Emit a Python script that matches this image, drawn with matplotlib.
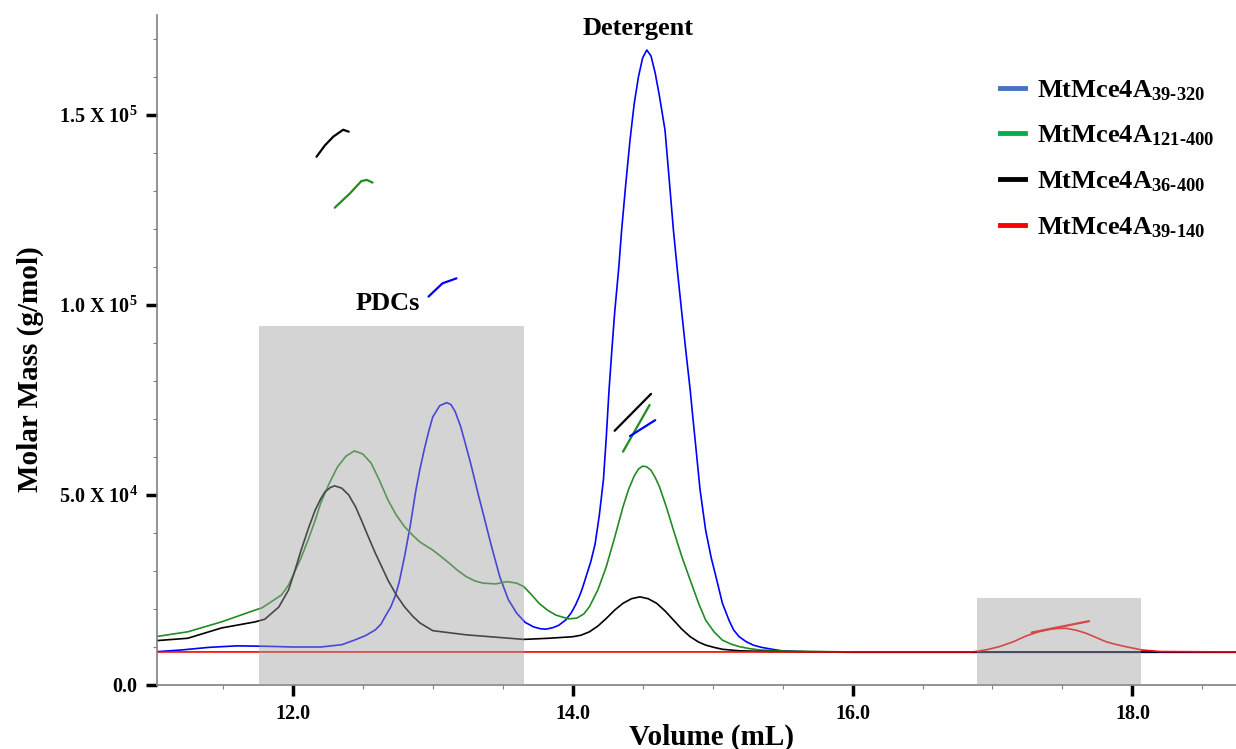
#!/usr/bin/env python3
"""
SEC-MALS overlay: molar mass vs elution volume for four MtMce4A constructs.

Output:
    out.png
"""

import matplotlib
matplotlib.use('Agg')
import matplotlib.pyplot as plt
from matplotlib.lines import Line2D
from matplotlib.patches import Rectangle
from matplotlib.ticker import FixedLocator, MultipleLocator

# --- Data ---

# MtMce4A 39-320 (blue) trace
blue_x = [11.0, 11.2, 11.4, 11.6, 11.8, 12.0, 12.2, 12.35, 12.44, 12.52, 12.59,
          12.63, 12.66, 12.7, 12.73, 12.76, 12.8, 12.84, 12.88, 12.91, 12.94,
          12.97, 13.0, 13.05, 13.1, 13.13, 13.16, 13.2, 13.24, 13.27, 13.3,
          13.33, 13.36, 13.42, 13.48, 13.54, 13.6, 13.66, 13.72, 13.77, 13.81,
          13.86, 13.9, 13.95, 13.99, 14.02, 14.05, 14.07, 14.1, 14.13, 14.16,
          14.19, 14.22, 14.24, 14.26, 14.28, 14.3, 14.33, 14.35, 14.38, 14.41,
          14.44, 14.47, 14.5, 14.53, 14.56, 14.59, 14.62, 14.66, 14.69, 14.72,
          14.75, 14.78, 14.81, 14.84, 14.86, 14.88, 14.91, 14.95, 14.99, 15.03,
          15.07, 15.12, 15.15, 15.19, 15.24, 15.29, 15.35, 15.41, 15.5, 15.7,
          16.0, 17.0, 18.0, 18.75]
blue_y = [8700, 9200, 9900, 10300, 10200, 10000, 10000, 10600, 11800, 13000, 14500,
          16000, 18000, 20500, 23200, 27000, 34000, 42000, 51300, 57000, 62000,
          66500, 70500, 73500, 74300, 73800, 72000, 68000, 62600, 58500, 54000,
          49500, 45200, 36500, 28400, 22500, 18900, 16500, 15300, 14800, 14700,
          15100, 15700, 17100, 19000, 21000, 23500, 25500, 29000, 32500, 37000,
          44500, 54000, 65000, 77600, 88000, 97900, 110000, 119700, 132000, 143400,
          153000, 160000, 165000, 167100, 165500, 161000, 155000, 146000, 133000, 119700,
          108500, 97900, 87500, 77600, 70000, 62700, 51500, 40800, 33500, 27600,
          21500, 16800, 14500, 12700, 11400, 10500, 9900, 9500, 8950, 8700,
          8600, 8600, 8600, 8600]

# MtMce4A 121-400 (green) trace
green_x = [11.0, 11.25, 11.49, 11.73, 11.78, 11.92, 11.97, 12.01, 12.06, 12.11,
           12.16, 12.2, 12.26, 12.32, 12.38, 12.44, 12.5, 12.56, 12.62, 12.68,
           12.74, 12.8, 12.86, 12.91, 13.0, 13.06, 13.12, 13.18, 13.24, 13.3,
           13.36, 13.45, 13.53, 13.6, 13.65, 13.7, 13.76, 13.82, 13.88, 13.97,
           14.03, 14.08, 14.12, 14.18, 14.24, 14.3, 14.36, 14.4, 14.44, 14.47,
           14.5, 14.53, 14.56, 14.59, 14.62, 14.67, 14.72, 14.78, 14.84, 14.9,
           14.95, 15.01, 15.07, 15.13, 15.19, 15.26, 15.34, 15.53, 16.0]
green_y = [12600, 14000, 16600, 19700, 20300, 23700, 26300, 29500, 33500, 38200,
           43300, 47900, 53000, 57400, 60200, 61600, 60800, 58400, 53800, 48700,
           44700, 41600, 39300, 37600, 35500, 33800, 32000, 30100, 28500, 27400,
           26800, 26600, 27200, 26800, 25900, 24000, 21500, 19700, 18400, 17400,
           17600, 18700, 20600, 25000, 31100, 38800, 46900, 51500, 55000, 56800,
           57600, 57400, 56500, 54600, 52200, 46800, 40800, 33800, 27600, 21500,
           17100, 14000, 11800, 10800, 10100, 9600, 9200, 8900, 8700]

# MtMce4A 36-400 (black) trace
black_x = [11.0, 11.25, 11.49, 11.73, 11.8, 11.9, 11.97, 12.01, 12.06, 12.11,
           12.16, 12.2, 12.23, 12.27, 12.3, 12.35, 12.4, 12.45, 12.49, 12.54,
           12.59, 12.64, 12.68, 12.74, 12.8, 12.86, 12.91, 13.0, 13.24, 13.48,
           13.65, 13.83, 14.0, 14.06, 14.12, 14.18, 14.24, 14.3, 14.36, 14.42,
           14.48, 14.54, 14.6, 14.66, 14.72, 14.78, 14.84, 14.9, 14.95, 15.01,
           15.07, 15.19, 15.4, 16.0, 17.0, 18.0, 18.75]
black_y = [11600, 12300, 15000, 16600, 17300, 20500, 25000, 29500, 35500, 41000,
           46000, 49000, 50800, 52000, 52400, 51800, 50000, 46800, 43400, 39000,
           34700, 30800, 27600, 23700, 20500, 18000, 16300, 14300, 13200, 12500,
           12000, 12300, 12700, 13100, 14000, 15500, 17500, 19700, 21500, 22700,
           23200, 22700, 21500, 19500, 17100, 14700, 12700, 11300, 10500, 9900,
           9400, 9000, 8800, 8700, 8700, 8700, 8700]

# MtMce4A 39-140 (red) trace
red_x = [11.0, 16.85, 16.88, 16.96, 17.05, 17.15, 17.24, 17.33, 17.41, 17.47,
         17.53, 17.6, 17.67, 17.74, 17.81, 17.88, 17.95, 18.07, 18.2, 18.75]
red_y = [8700, 8700, 8800, 9300, 10100, 11400, 12900, 14000, 14650, 14900,
         14900, 14400, 13600, 12500, 11400, 10700, 10100, 9200, 8800, 8700]

# Molar-mass segments across the peaks
mm_black_x = [[12.17, 12.23, 12.29, 12.36, 12.40], [14.30, 14.56]]
mm_black_y = [[139000, 142000, 144300, 146100, 145600], [66900, 76600]]
mm_green_x = [[12.30, 12.41, 12.49, 12.53, 12.57], [14.36, 14.55]]
mm_green_y = [[125600, 129400, 132600, 132900, 132200], [61400, 73700]]
mm_blue_x = [[12.97, 13.07, 13.17], [14.41, 14.59]]
mm_blue_y = [[102200, 105700, 107000], [65500, 69700]]
mm_red_x = [[17.28, 17.69]]
mm_red_y = [[13800, 16800]]

# Shaded regions: (start, end) volume and top molar mass
box_ranges = [(11.76, 13.65), (16.89, 18.06)]
box_tops = [94500, 22900]

legend_labels = [
    r'MtMce4A$_{\mathrm{39\text{-}320}}$',
    r'MtMce4A$_{\mathrm{121\text{-}400}}$',
    r'MtMce4A$_{\mathrm{36\text{-}400}}$',
    r'MtMce4A$_{\mathrm{39\text{-}140}}$',
]
legend_colors = ['#4472C4', '#00B050', '#000000', '#FF0000']

ytick_values = [0, 50000, 100000, 150000]
ytick_labels = ['0.0', r'5.0 X 10$^{4}$', r'1.0 X 10$^{5}$', r'1.5 X 10$^{5}$']
xtick_values = [12, 14, 16, 18]
xtick_labels = ['12.0', '14.0', '16.0', '18.0']

# --- Style ---
SERIF = 'Liberation Serif'
plt.rcParams['font.family'] = SERIF
plt.rcParams['font.weight'] = 'bold'
plt.rcParams['mathtext.fontset'] = 'custom'
plt.rcParams['mathtext.rm'] = 'Liberation Serif:bold'
plt.rcParams['mathtext.it'] = 'Liberation Serif:bold:italic'
plt.rcParams['mathtext.bf'] = 'Liberation Serif:bold'

BLUE = '#0000FF'
GREEN = '#228B22'
BLACK = '#000000'
RED = '#FF0000'


def main():
    fig = plt.figure(figsize=(12.36, 7.49), dpi=100)
    W, H = 1236, 749
    ax = fig.add_axes([157 / W, 64 / H, (W - 157) / W, (685 - 15) / H])

    # traces
    for xs, ys, c in [(blue_x, blue_y, BLUE), (green_x, green_y, GREEN),
                      (black_x, black_y, BLACK), (red_x, red_y, RED)]:
        ax.plot(xs, ys, color=c, lw=1.2, zorder=2, solid_joinstyle='round')

    # molar mass segments
    for xs, ys, c in [(mm_black_x, mm_black_y, BLACK), (mm_green_x, mm_green_y, GREEN),
                      (mm_blue_x, mm_blue_y, BLUE), (mm_red_x, mm_red_y, RED)]:
        for sx, sy in zip(xs, ys):
            ax.plot(sx, sy, color=c, lw=1.6, zorder=2, solid_capstyle='round')

    # shaded overlays (drawn on top, semi-transparent)
    for (x0, x1), top in zip(box_ranges, box_tops):
        ax.add_patch(Rectangle((x0, 0), x1 - x0, top, facecolor='#a0a0a0',
                               edgecolor='none', alpha=0.45, zorder=3))

    ax.set_xlim(11.03, 18.74)
    ax.set_ylim(0, 176300)

    # annotations
    ax.text(14.47, 172800, 'Detergent', ha='center', va='center',
            fontsize=19, fontweight='bold', zorder=4)
    ax.text(12.68, 100500, 'PDCs', ha='center', va='center',
            fontsize=19, fontweight='bold', zorder=4)

    # axes
    for side in ('top', 'right'):
        ax.spines[side].set_visible(False)
    for side in ('left', 'bottom'):
        ax.spines[side].set_color('#808080')
        ax.spines[side].set_linewidth(1.2)

    ax.yaxis.set_major_locator(FixedLocator(ytick_values))
    ax.set_yticklabels(ytick_labels)
    ax.yaxis.set_minor_locator(MultipleLocator(10000))
    ax.xaxis.set_major_locator(FixedLocator(xtick_values))
    ax.set_xticklabels(xtick_labels)
    ax.xaxis.set_minor_locator(MultipleLocator(0.5))

    ax.tick_params(which='major', direction='out', length=8, width=2.5,
                   color='black', labelsize=14.5, pad=6)
    ax.tick_params(which='minor', direction='out', length=3, width=0.8,
                   color='#808080')
    for lab in ax.get_xticklabels() + ax.get_yticklabels():
        lab.set_fontweight('bold')

    ax.set_xlabel('Volume (mL)', fontsize=21, fontweight='bold')
    ax.set_ylabel('Molar Mass (g/mol)', fontsize=21, fontweight='bold')
    ax.xaxis.set_label_coords(0.514, -0.058)
    ax.yaxis.set_label_coords(-0.105, 0.471)

    handles = [Line2D([0], [0], color=c, lw=3.5) for c in legend_colors]
    ax.legend(handles, legend_labels, loc='upper left',
              bbox_to_anchor=(1000 / W, 1 - 78 / H), bbox_transform=fig.transFigure,
              frameon=False, handlelength=0.95, handletextpad=0.45,
              labelspacing=0.8, borderpad=0, borderaxespad=0,
              prop={'family': SERIF, 'weight': 'bold', 'size': 19})

    fig.savefig('out.png', dpi=100, facecolor='white')
    plt.close(fig)


if __name__ == '__main__':
    main()
